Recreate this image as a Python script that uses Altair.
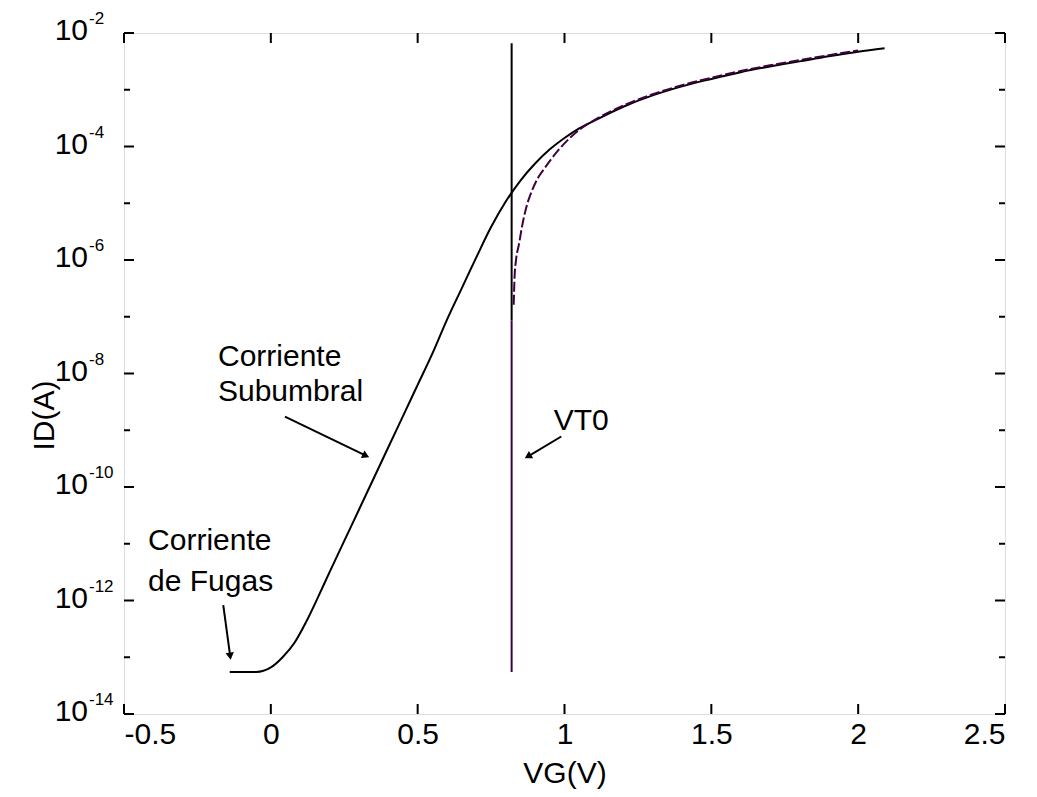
import math
import altair as alt
import pandas as pd

# ---- data ----
black_vg = [-0.14, -0.05, 0.0, 0.04, 0.08, 0.12, 0.16, 0.2, 0.25, 0.3, 0.35, 0.4, 0.45,
            0.5, 0.55, 0.6, 0.65, 0.7, 0.75, 0.8, 0.85, 0.9, 0.95, 1.0, 1.05, 1.1, 1.2,
            1.3, 1.4, 1.5, 1.6, 1.7, 1.8, 1.9, 2.0, 2.09]
black_log = [-13.26, -13.26, -13.18, -13.0, -12.75, -12.38, -11.95, -11.5, -10.95, -10.4,
             -9.85, -9.3, -8.75, -8.2, -7.65, -7.05, -6.5, -5.95, -5.42, -4.97, -4.6,
             -4.3, -4.05, -3.85, -3.68, -3.55, -3.30, -3.10, -2.94, -2.81, -2.69, -2.59,
             -2.50, -2.41, -2.33, -2.27]

purple_vg = [0.827, 0.83, 0.835, 0.845, 0.855, 0.87, 0.89, 0.91, 0.93, 0.955, 0.985,
             1.02, 1.06, 1.11, 1.2, 1.3, 1.4, 1.5, 1.6, 1.7, 1.8, 1.9, 2.0]
purple_log = [-6.79, -6.3, -6.0, -5.72, -5.42, -5.07, -4.77, -4.55, -4.40, -4.22, -4.03,
              -3.84, -3.67, -3.51, -3.28, -3.08, -2.92, -2.79, -2.67, -2.57, -2.48, -2.39, -2.31]

vto_x = 0.82
vto_black_log = [-2.18, -7.06]
vto_purple_log = [-7.06, -13.26]

x_ticks = [-0.5, 0, 0.5, 1, 1.5, 2, 2.5]
y_major_exp = [-14, -12, -10, -8, -6, -4, -2]
y_minor_exp = [-13, -11, -9, -7, -5, -3]

note_text = ["Corriente", "Subumbral", "Corriente", "de Fugas", "VT0"]
note_vg = [-0.18, -0.18, -0.418, -0.418, 0.963]
note_log = [-7.71, -8.33, -10.96, -11.67, -8.83]

arrow_vg1 = [0.048, -0.162, 0.989]
arrow_log1 = [-8.76, -12.08, -9.11]
arrow_vg2 = [0.320, -0.139, 0.879]
arrow_log2 = [-9.44, -12.96, -9.45]

# ---- layout ----
W, H = 881, 681
FONT = "Liberation Sans"
PURPLE = "#400040"
X_DOM = [-0.5, 2.5]
Y_DOM = [1e-14, 1e-2]

xs = alt.Scale(domain=X_DOM, nice=False, zero=False)
ys = alt.Scale(type="log", domain=Y_DOM, nice=False)

black_df = pd.DataFrame({"vg": black_vg, "id": [10 ** v for v in black_log]})
purple_df = pd.DataFrame({"vg": purple_vg, "id": [10 ** v for v in purple_log]})
vto_df = pd.DataFrame({
    "vg": [vto_x, vto_x],
    "y1": [10 ** vto_black_log[0], 10 ** vto_purple_log[0]],
    "y2": [10 ** vto_black_log[1], 10 ** vto_purple_log[1]],
    "c": ["black", PURPLE],
})
note_df = pd.DataFrame({"t": note_text, "vg": note_vg, "id": [10 ** v for v in note_log]})

px_per_x = W / (X_DOM[1] - X_DOM[0])
px_per_dec = H / 12.0
angles = []
for a1, l1, a2, l2 in zip(arrow_vg1, arrow_log1, arrow_vg2, arrow_log2):
    dx = (a2 - a1) * px_per_x
    dy = -(l2 - l1) * px_per_dec
    angles.append(math.degrees(math.atan2(dx, -dy)) % 360)
arrow_df = pd.DataFrame({
    "x1": arrow_vg1, "y1": [10 ** v for v in arrow_log1],
    "x2": arrow_vg2, "y2": [10 ** v for v in arrow_log2],
    "ang": angles,
})

major_df = pd.DataFrame({"id": [10.0 ** e for e in y_major_exp],
                         "exp": [str(e) for e in y_major_exp]})
minor_df = pd.DataFrame({"id": [10.0 ** e for e in y_minor_exp]})
xtick_df = pd.DataFrame({"vg": x_ticks})


def X(f="vg"):
    return alt.X(f"{f}:Q", scale=xs,
                 axis=alt.Axis(values=x_ticks, labelExpr="toString(datum.value)",
                               ticks=False, domain=False, grid=False,
                               labelFont=FONT, labelFontSize=30, labelColor="black",
                               labelPadding=5, title="VG(V)", titleFont=FONT,
                               titleFontSize=30, titleFontWeight="normal",
                               titleColor="black", titlePadding=9))


def Y(f="id"):
    return alt.Y(f"{f}:Q", scale=ys,
                 axis=alt.Axis(labels=False, ticks=False, domain=False, grid=False,
                               title="ID(A)", titleFont=FONT, titleFontSize=30,
                               titleFontWeight="normal", titleColor="black",
                               titleAngle=270, titleX=-80, titleY=382,
                               titleAlign="center", titleBaseline="middle"))


black = alt.Chart(black_df).mark_line(color="black", strokeWidth=2, interpolate="monotone").encode(
    x=X(), y=Y())
purple = alt.Chart(purple_df).mark_line(color=PURPLE, strokeWidth=2, strokeDash=[10, 3],
                                        interpolate="monotone").encode(x=X(), y=Y())
vto = alt.Chart(vto_df).mark_rule(strokeWidth=2).encode(
    x=X(), y=alt.Y("y1:Q", scale=ys), y2="y2:Q",
    color=alt.Color("c:N", scale=None))
notes = alt.Chart(note_df).mark_text(align="left", baseline="middle", font=FONT,
                                     fontSize=30, color="black").encode(
    x=X(), y=Y(), text="t:N")
arrows = alt.Chart(arrow_df).mark_rule(color="black", strokeWidth=2).encode(
    x=alt.X("x1:Q", scale=xs), y=alt.Y("y1:Q", scale=ys), x2="x2:Q", y2="y2:Q")
heads = alt.Chart(arrow_df).mark_point(shape="triangle", filled=True, color="black",
                                       size=70, opacity=1).encode(
    x=alt.X("x2:Q", scale=xs), y=alt.Y("y2:Q", scale=ys),
    angle=alt.Angle("ang:Q", scale=None))


# inward ticks on all four sides
def yticks(df, length):
    base = alt.Chart(df).mark_rule(color="black", strokeWidth=2)
    left = base.encode(y=alt.Y("id:Q", scale=ys), x=alt.value(0), x2=alt.value(length))
    right = base.encode(y=alt.Y("id:Q", scale=ys), x=alt.value(W - length), x2=alt.value(W))
    return left + right


xbase = alt.Chart(xtick_df).mark_rule(color="black", strokeWidth=2)
xt_bottom = xbase.encode(x=alt.X("vg:Q", scale=xs), y=alt.value(H - 10), y2=alt.value(H))
xt_top = xbase.encode(x=alt.X("vg:Q", scale=xs), y=alt.value(0), y2=alt.value(10))

# y tick labels: "10" with a raised exponent
lab10 = alt.Chart(major_df).mark_text(align="right", baseline="middle", font=FONT,
                                      fontSize=30, color="black", dy=-2).encode(
    y=alt.Y("id:Q", scale=ys), x=alt.value(-36), text=alt.value("10"))
labexp = alt.Chart(major_df).mark_text(align="left", baseline="middle", font=FONT,
                                       fontSize=17, color="black", dy=-14).encode(
    y=alt.Y("id:Q", scale=ys), x=alt.value(-35), text="exp:N")

chart = alt.layer(
    black, purple, vto, notes, arrows, heads,
    yticks(major_df, 10), yticks(minor_df, 6), xt_bottom, xt_top,
    lab10, labexp,
).properties(
    width=W, height=H,
    autosize=alt.AutoSizeParams(type="none"),
    padding={"left": 116, "top": 25, "right": 24, "bottom": 75},
).configure_view(
    stroke="black", strokeWidth=2
).configure(background="white")

chart.save("out.html", embed_options={"renderer": "svg", "actions": False})
